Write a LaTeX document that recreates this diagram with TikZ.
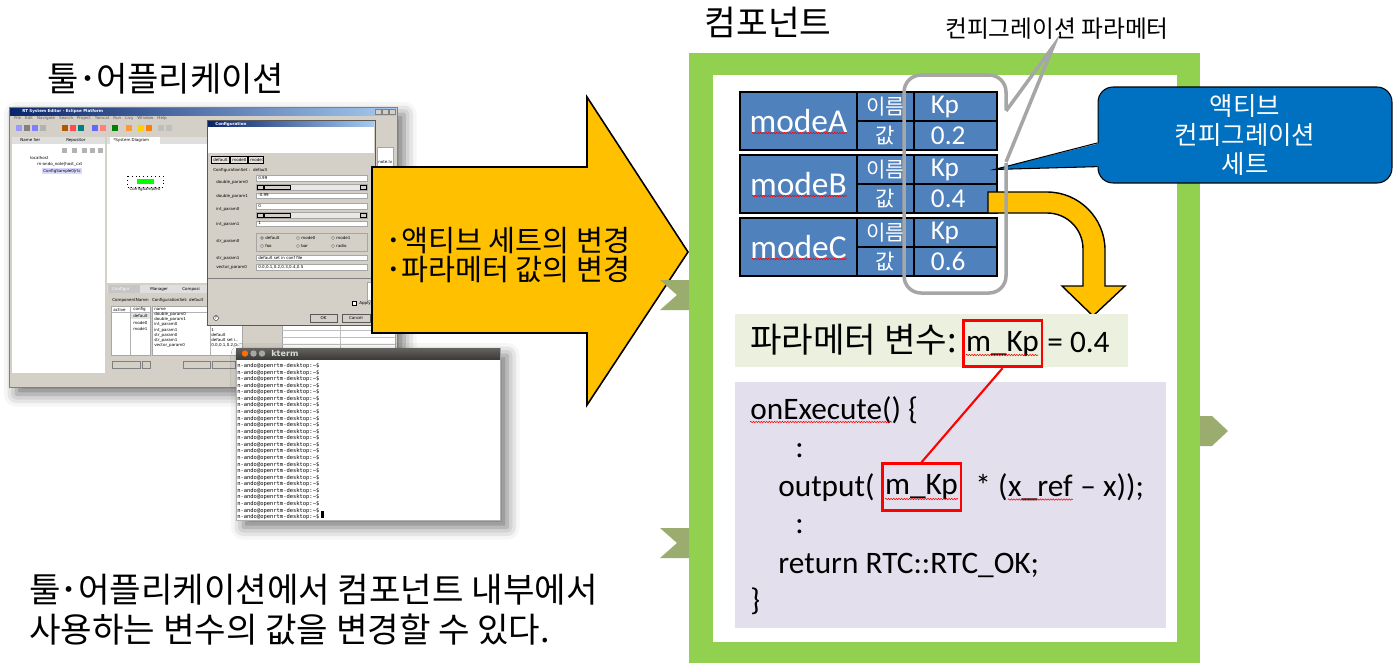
\documentclass[tikz,border=0pt]{standalone}
\usepackage{fontspec}
\setmainfont{Carlito}
\newfontfamily\kr{Noto Sans CJK KR}
\newfontfamily\ui{DejaVu Sans}
\newfontfamily\term{DejaVu Sans Mono}
\usetikzlibrary{positioning,shadows.blur,decorations.pathmorphing}

\definecolor{framegreen}{HTML}{92D050}
\definecolor{portolive}{HTML}{9BAD6E}
\definecolor{cellblue}{HTML}{4F81BD}
\definecolor{calloutblue}{HTML}{0070C0}
\definecolor{arrowyellow}{HTML}{FFC000}
\definecolor{calloutgray}{HTML}{A6A6A6}
\definecolor{parambg}{HTML}{EBF1DE}
\definecolor{codebg}{HTML}{E4DFEC}
\definecolor{winface}{HTML}{D4D0C8}
\definecolor{titleblue}{HTML}{0A246A}
\definecolor{titlelight}{HTML}{A6CAF0}
\definecolor{termbar}{HTML}{3C3B37}

\tikzset{
  cell/.style={draw=black, line width=1.1pt, fill=cellblue, text=white, inner sep=0pt, anchor=north west},
  kpbox/.style={draw=red, line width=1.7pt, minimum width=1.58cm, minimum height=0.93cm, inner sep=0pt,
    font=\fontsize{17.8}{20}\selectfont},
  codeline/.style={anchor=base west, inner sep=0pt, font=\fontsize{17.8}{20}\selectfont},
  spell/.style={draw=red, line width=0.3pt, decorate, decoration={snake, amplitude=0.4pt, segment length=1.5pt}},
  tinytext/.style={font=\ui\fontsize{2.3}{2.8}\selectfont, inner sep=0pt, anchor=west},
  field/.style={fill=white, draw=gray!70, line width=0.2pt},
  winshadow/.style={blur shadow={shadow xshift=4pt, shadow yshift=-4pt, shadow blur radius=7pt, shadow opacity=55}},
}

\begin{document}
\begin{tikzpicture}[x=0.02cm, y=-0.02cm, >=latex]
\useasboundingbox (0,0) rectangle (1396,667);

% tool side
\node[font=\kr\fontsize{19.4}{22}\selectfont] (tooltitle) at (166,79) {툴･어플리케이션};

\node[fill=winface, draw=gray, line width=0.3pt, anchor=north west, minimum width=7.76cm, minimum height=5.6cm,
  inner sep=0pt, winshadow] (eclipse) at (9,107) {};
\shade[left color=titleblue, right color=titlelight] (10,108) rectangle (396,115);
\node[tinytext, text=white] (etitle) at (22,111.5) {\bfseries RT System Editor - Eclipse Platform};
\foreach \x in {375,382,389}
  \draw[fill=winface, draw=gray, line width=0.2pt] (\x,109) rectangle ++(6,5);
\node[tinytext, text=gray!70!black] (emenu) at (14,118.5)
  {File\quad Edit\quad Navigate\quad Search\quad Project\quad Tomcat\quad Run\quad Livy\quad Window\quad Help};
\foreach \x/\c in {16/blue!40, 24/gray, 32/blue!50, 40/gray!60, 62/orange!70!black, 70/red!70, 78/teal,
    92/blue!60, 100/red!50, 112/green!50!black, 126/orange!80, 138/yellow!70!orange, 146/orange, 158/gray!50, 166/gray!50}
  \fill[\c] (\x,125) rectangle ++(6,6);

% name service view
\fill[white] (12,137) rectangle (105,373);
\fill[gray!25] (12,137) rectangle (105,144);
\node[tinytext] (tabns) at (20,140.5) {Name Ser};
\node[tinytext] (tabrep) at (66,140.5) {Repositor};
\foreach \x in {62,72,82,90,98} \fill[gray!60] (\x,148) rectangle ++(5,5);
\node[tinytext] (tree1) at (30,158) {localhost};
\node[tinytext] (tree2) at (37,164) {m-ando\_note|host\_cxt};
\fill[blue!15] (42,168) rectangle (82,174);
\node[tinytext] (tree3) at (43,171) {ConfigSample0|rtc};

% system diagram
\fill[white] (107,137) rectangle (207,283);
\fill[gray!25] (107,137) rectangle (207,144);
\fill[white] (110,137) rectangle (160,144);
\node[tinytext] (tabsd) at (113,140.5) {*System Diagram};
\draw[line width=0.2pt, dotted] (127,176) rectangle (163,187);
\fill[green] (137,179) rectangle (154,184);
\node[tinytext, anchor=center] (compname) at (145,189.5) {ConfigSample0};

% configuration view
\fill[gray!25] (107,285) rectangle (240,293);
\fill[gray!45] (108,285) rectangle (140,293);
\node[tinytext, text=white] (tabcfg) at (112,289) {Configur};
\node[tinytext] (tabmgr) at (150,289) {Manager};
\node[tinytext] (tabcmp) at (182,289) {Composi};
\node[tinytext] (cfgset) at (112,300) {ComponentName: \ ConfigurationSet: default};
\draw[field] (111,306) rectangle (150,355);
\draw[field] (152,306) rectangle (242,355);
\draw[gray!60, line width=0.2pt] (130,306) -- (130,355) (111,312) -- (150,312) (152,312) -- (242,312) (210,306) -- (210,355);
\node[tinytext] (hact) at (113,309.5) {active};
\node[tinytext] (hcfg) at (133,309.5) {config};
\node[tinytext] (hname) at (154,309.5) {name};
\fill[gray!20] (131,313) rectangle (150,319);
\foreach \lab/\yy [count=\i] in {default/316, mode0/323, mode1/329}
  \node[tinytext] (cset\i) at (133,\yy) {\lab};
\foreach \lab/\yy [count=\i] in {double\_param0/314, double\_param1/319, int\_param0/324.5, int\_param1/330,
    str\_param0/335, str\_param1/340, vector\_param0/345.5}
  \node[tinytext] (pname\i) at (154,\yy) {\lab};
\foreach \lab/\yy [count=\i] in {1/330, default/335, default set i../340, {0.0,0.1,0.2,0..}/345.5}
  \node[tinytext] (pval\i) at (211,\yy) {\lab};
\foreach \xa/\xb in {112/140, 142/150, 183/210, 212/235}
  \draw[fill=winface, draw=gray, line width=0.2pt] (\xa,361) rectangle (\xb,368);
\draw[field] (282,323) rectangle (395,373);
\foreach \yy in {330,337,344,351,358,365} \draw[gray!50, line width=0.2pt] (282,\yy) -- (395,\yy);
\draw[gray!50, line width=0.2pt] (340,323) -- (340,373);
\draw[field] (377,147) rectangle (393,167);
\node[tinytext] (noteh) at (378,162) {note.lv};

% configuration dialog
\node[fill=winface, draw=gray!70!black, line width=0.3pt, minimum width=3.36cm, minimum height=4.1cm,
  anchor=north west, inner sep=0pt] (dialog) at (207,120) {};
\shade[left color=titleblue, right color=titlelight] (208,121) rectangle (374,127);
\node[tinytext, text=white] (dtitle) at (215,124) {\bfseries Configuration};
\fill[white] (208,127) rectangle (374,153);
\foreach \lab/\xa/\xb [count=\i] in {default/211/229, mode0/230/247, mode1/248/263}{
  \draw[fill=winface!60, line width=0.2pt] (\xa,156) rectangle (\xb,163);
  \node[tinytext] (dtab\i) at (\xa+2,159.5) {\lab};
}
\node[tinytext] (dset) at (213,170) {ConfigurationSet : \ default};
\foreach \lab/\yy [count=\i] in {double\_param0/182, double\_param1/196, int\_param0/209, int\_param1/224,
    str\_param0/241, str\_param1/258, vector\_param0/267}
  \node[tinytext] (plab\i) at (216,\yy) {\lab};
\foreach \ya/\yb/\txt [count=\i] in {175/181/0.99, 193/198/-0.99, 203/209/0, 221/226/1,
    255/260/default set in conf file, 264/270/{0.0,0.1,0.2,0.3,0.4,0.5}}{
  \draw[field] (256,\ya) rectangle (367,\yb);
  \node[tinytext] (fv\i) at (258,{(\ya+\yb)/2}) {\txt};
}
\foreach \ya in {184,212}{
  \draw[field, fill=winface!50] (256,\ya) rectangle (367,\ya+6);
  \draw[fill=winface, line width=0.2pt] (257,\ya+1) rectangle (263,\ya+5);
  \draw[fill=winface, line width=0.2pt] (264,\ya+1) rectangle (290,\ya+5);
  \draw[fill=winface, line width=0.2pt] (360,\ya+1) rectangle (366,\ya+5);
}
\draw[gray!70, line width=0.2pt] (256,233) rectangle (367,251);
\foreach \lab/\xx/\yy [count=\i] in {default/262/238, mode0/298/238, mode1/333/238, foo/262/246, bar/298/246, radio/333/246}{
  \draw[fill=white, line width=0.15pt] (\xx,\yy) circle (1.5);
  \node[tinytext] (rad\i) at (\xx+3,\yy) {\lab};
}
\fill (262,238) circle (0.7);
\draw[gray, line width=0.2pt] (208,278) -- (374,278);
\draw[field] (367,282) rectangle (374,300);
\draw[fill=white, line width=0.2pt] (352,301) rectangle (356,305);
\node[tinytext] (apply) at (359,303) {Apply};
\draw[fill=white, line width=0.2pt] (216,318) circle (2.5);
\node[tinytext, anchor=center] (help) at (216,318) {?};
\node[draw=gray!70!black, fill=winface, line width=0.3pt, minimum width=0.54cm, minimum height=0.16cm,
  inner sep=0pt, font=\ui\fontsize{2.3}{2.8}\selectfont] (okbtn) at (323.5,318) {OK};
\node[draw=gray!70!black, fill=winface, line width=0.3pt, minimum width=0.56cm, minimum height=0.16cm,
  inner sep=0pt, font=\ui\fontsize{2.3}{2.8}\selectfont] (cancelbtn) at (356,318) {Cancel};

% kterm
\node[fill=white, draw=gray!60, line width=0.3pt, minimum width=5.28cm, minimum height=3.44cm,
  anchor=north west, inner sep=0pt, winshadow] (kterm) at (236,348) {};
\shade[top color=termbar!80, bottom color=termbar] (236,348) rectangle (500,359);
\fill[orange!85!red] (245,353.5) circle (3.2);
\fill[gray!70] (253.5,353.5) circle (3.2);
\fill[gray!70] (262,353.5) circle (3.2);
\node[font=\ui\bfseries\fontsize{4.6}{5}\selectfont, text=white!85!black, anchor=west, inner sep=0pt]
  (ktitle) at (271,353.5) {kterm};
\foreach \i in {0,...,23}
  \node[font=\term\fontsize{3.1}{3.5}\selectfont, anchor=west, inner sep=0pt]
    (tl\i) at (237,{366+6.57*\i}) {n-ando@openrtm-desktop:\textasciitilde\$};
\fill (321,511) rectangle (323.5,518);

% big arrow
\draw[fill=arrowyellow, line width=0.9pt, line join=miter]
  (372,167) -- (587,167) -- (587,97) -- (688,252) -- (587,405) -- (587,333) -- (372,333) -- cycle;
\node[anchor=west, align=left, inner sep=0pt, font=\kr\fontsize{16.7}{17}\selectfont] (change) at (386,255)
  {･액티브 세트의 변경\\･파라메터 값의 변경};

% component
\node[font=\kr\fontsize{19.6}{22}\selectfont] (comptitle) at (768,22) {컴포넌트};
\fill[framegreen] (689,53) rectangle (1200,663);
\fill[white] (713,75) rectangle (1177,642);
\fill[portolive] (660,280) -- (689,280) -- (689,310) -- (660,310) -- (677,295) -- cycle;
\fill[portolive] (660,528) -- (689,528) -- (689,558) -- (660,558) -- (677,543) -- cycle;
\fill[portolive] (1200,416) -- (1212,416) -- (1228,431) -- (1212,446) -- (1200,446) -- cycle;

% configuration sets
\foreach \m/\val/\ytop in {A/0.2/91, B/0.4/154, C/0.6/217}{
  \node[cell, minimum width=2.34cm, minimum height=1.16cm, font=\fontsize{19}{21}\selectfont]
    (mode\m) at (739,\ytop) {mode\m};
  \node[cell, minimum width=1.14cm, minimum height=0.58cm, font=\kr\fontsize{12}{13}\selectfont]
    (name\m) at (856,\ytop) {이름};
  \node[cell, minimum width=1.14cm, minimum height=0.58cm, font=\kr\fontsize{12}{13}\selectfont]
    (lbl\m) at (856,\ytop+29) {값};
  \node[cell, minimum height=0.58cm, text width=0.98cm, inner xsep=0.34cm, align=left,
    font=\fontsize{15.5}{17}\selectfont] (kp\m) at (913,\ytop) {Kp};
  \node[cell, minimum height=0.58cm, text width=0.98cm, inner xsep=0.34cm, align=left,
    font=\fontsize{15.5}{17}\selectfont] (val\m) at (913,\ytop+29) {\val};
  \draw[spell] (752,\ytop+42) -- (847,\ytop+42);
}

% active set callout
\node[fill=calloutblue, draw=black, line width=0.6pt, rounded corners=0.3cm, minimum width=5.88cm,
  minimum height=1.92cm, text=white, align=center, font=\kr\fontsize{14.5}{16.4}\selectfont]
  (activeset) at (1245,135) {액티브\\컨피그레이션\\세트};
\fill[calloutblue] ([xshift=2pt,yshift=-4.5pt]activeset.west) -- ([xshift=-2pt]kpB.east)
  -- ([xshift=2pt,yshift=-18pt]activeset.west) -- cycle;
\draw[line width=0.6pt] ([yshift=-4.5pt]activeset.west) -- ([xshift=-2pt]kpB.east)
  -- ([yshift=-18pt]activeset.west);

% selected set flows into the variable
\draw[fill=arrowyellow, line width=0.8pt, line join=miter]
  (988,192) -- (1047,192) .. controls (1079,192) and (1105,218) .. (1105,250) -- (1105,286)
  -- (1125,286) -- (1093,316) -- (1062,286) -- (1083,286) -- (1083,249)
  .. controls (1083,229) and (1067,213) .. (1047,213) -- (988,213) -- cycle;

% configuration parameter callout
\node[font=\kr\fontsize{13.5}{15}\selectfont] (cfglabel) at (1057,29) {컨피그레이션 파라메터};
\draw[calloutgray, line width=2pt, rounded corners=0.34cm]
  (1006,110) -- (1006,75) -- (904,75) -- (904,293) -- (1006,293) -- (1006,163);
\draw[calloutgray, line width=2pt, line join=miter] (1006,111) -- ([xshift=-2pt]cfglabel.south) -- (1006,162);

% parameter variable
\node[fill=parambg, minimum width=7.86cm, minimum height=1.06cm, anchor=north west, inner sep=0pt]
  (parambox) at (735,314) {};
\node[anchor=base west, inner sep=0pt, font=\kr\fontsize{19.5}{22}\selectfont] (plabel) at (750,352) {파라메터 변수:};
\node[kpbox] (pkp) at (1002.5,343.5) {m\_Kp};
\node[codeline] (pval) at (1047,352) {= 0.4};
\draw[spell] (966,355) -- (1038,355);

% code
\node[fill=codebg, minimum width=8.62cm, minimum height=4.92cm, anchor=north west, inner sep=0pt]
  (codebox) at (735,382) {};
\node[codeline] (c1) at (750,419) {onExecute() \{};
\node[codeline] (c2) at (795,457) {:};
\node[codeline] (c3) at (778,496) {output(};
\node[kpbox] (ckp) at (921.5,487) {m\_Kp};
\node[codeline] (c3b) at (975,496) {* (};
\node[codeline] (xref) at (c3b.base east) {x\_ref};
\node[codeline] (c3c) at (xref.base east) {\ – x));};
\node[codeline] (c4) at (795,533) {:};
\node[codeline] (c5) at (778,573) {return RTC::RTC\_OK;};
\node[codeline] (c6) at (750,610) {\}};
\draw[spell] (750,422) -- (892,422);
\draw[spell] (885,499) -- (958,499);
\draw[spell] ([yshift=-2pt]xref.base west) -- ([yshift=-2pt]xref.base east);
\draw[red, line width=1.2pt] (pkp.south) -- (ckp.north);

% summary
\node[anchor=west, align=left, inner sep=0pt, font=\kr\fontsize{19.5}{22.7}\selectfont] (summary) at (29,610)
  {툴･어플리케이션에서 컴포넌트 내부에서\\사용하는 변수의 값을 변경할 수 있다.};
\end{tikzpicture}
\end{document}
